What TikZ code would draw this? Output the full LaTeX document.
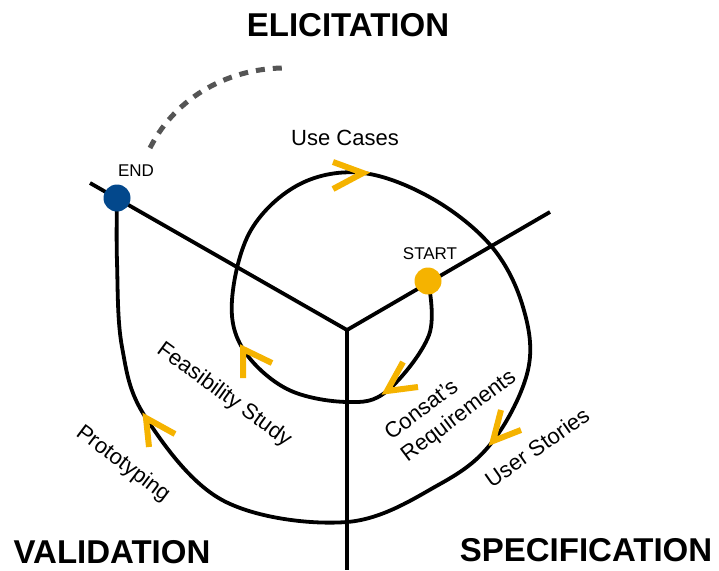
\documentclass[tikz,border=0pt]{standalone}
\usepackage{fontspec}
\setmainfont{Liberation Sans}
\definecolor{chevorange}{HTML}{F5B300}
\definecolor{enddot}{HTML}{03488C}
\definecolor{dashgray}{HTML}{555555}
\begin{document}
\begin{tikzpicture}[x=1pt, y=-1pt,
		phase/.style={inner sep=0pt, font=\fontsize{33}{36}\selectfont\bfseries},
		lbl/.style={inner sep=0pt, font=\fontsize{22}{27}\selectfont},
		tag/.style={inner sep=0pt, font=\fontsize{17}{20}\selectfont},
		axis/.style={line width=3.8pt},
		loop/.style={line width=3.8pt, line join=round},
		chev/.style={line width=6pt, chevorange},
		dot/.style={circle, inner sep=0pt, minimum size=27pt}]
		\useasboundingbox (0,0) rectangle (719,570);
		\coordinate (hub) at (347,330);
		\coordinate (nw) at (90,183);
		\coordinate (ne) at (550,212);
		\coordinate (down) at (347,570);
		\coordinate (s0) at (428,281);
		\coordinate (e0) at (117,198);
		\coordinate (cr) at (387,391);
		\coordinate (cb1) at (347,402);
		\coordinate (fs) at (243,349);
		\coordinate (uc) at (363,173);
		\coordinate (us) at (493,441);
		\coordinate (cb2) at (347,522);
		\coordinate (pr) at (146,418);
		\coordinate (arcA) at (150,148);
		\coordinate (arcB) at (288,68);
		\draw[axis] (nw) -- (hub) -- (ne);
		\draw[axis] (hub) -- (down);
		\draw[loop] plot[smooth, tension=0.6] coordinates {(s0) (429,335) (cr) (cb1) (287,389) (fs)
			(232,300) (251,230) (300,184) (uc) (433,199) (492,247) (523,307) (528,370) (us)
			(440,484) (cb2) (224,501) (pr) (122,347) (117,262) (e0)};
		\draw[dashgray, line width=5pt, dash pattern=on 9pt off 8pt] (arcA) .. controls (176,96) and (231,67) .. (arcB);
		\node[dot, fill=chevorange] (start) at (s0) {};
		\node[dot, fill=enddot] (end) at (e0) {};
		\draw[chev] ([shift={(-30,-11)}]uc) -- (uc) -- ([shift={(-30,16)}]uc);
		\draw[chev] ([shift={(16,-29)}]cr) -- (cr) -- ([shift={(31,-4)}]cr);
		\draw[chev] ([shift={(0,29)}]fs) -- (fs) -- ([shift={(29,14)}]fs);
		\draw[chev] ([shift={(8,-31)}]us) -- (us) -- ([shift={(28,-11)}]us);
		\draw[chev] ([shift={(3,29)}]pr) -- (pr) -- ([shift={(29,16)}]pr);
		\node[phase] (elic) at (348,25) {ELICITATION};
		\node[phase] (valid) at (112,552) {VALIDATION};
		\node[phase] (spec) at (586,550) {SPECIFICATION};
		\node[lbl] (usecases) at (345,138) {Use Cases};
		\node[tag] (endlbl) at (136,171) {END};
		\node[tag] (startlbl) at (430,254) {START};
		\node[lbl, rotate=-36] (feas) at (224,395) {Feasibility Study};
		\node[lbl, rotate=-37] (proto) at (123,464) {Prototyping};
		\node[lbl, rotate=37, align=left] (consat) at (451,406) {Consat’s\\Requirements};
		\node[lbl, rotate=35] (stories) at (537,447) {User Stories};
\end{tikzpicture}
\end{document}
